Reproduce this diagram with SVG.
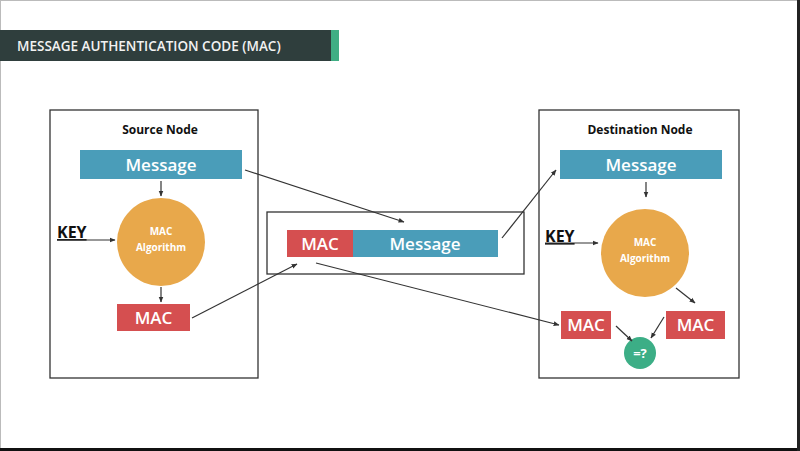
<svg xmlns="http://www.w3.org/2000/svg" width="800" height="451" viewBox="0 0 800 451">
<defs>
<marker id="ah" viewBox="0 0 10 10" refX="9" refY="5" markerWidth="5" markerHeight="5" orient="auto"><path d="M0,1 L10,5 L0,9 z" fill="#333"/></marker>
<style>
.lbl{font-family:"Open Sans","Liberation Sans",sans-serif;fill:#fff;text-anchor:middle}
.big{font-size:17px;font-weight:600}
.small{font-size:10px;font-weight:700}
.hdr{font-family:"Open Sans","Liberation Sans",sans-serif;font-size:12px;font-weight:700;fill:#111;text-anchor:middle}
.key{font-family:"Open Sans","Liberation Sans",sans-serif;font-size:16px;font-weight:700;fill:#111;text-decoration:underline}
.box{fill:#fff;stroke:#333;stroke-width:1.3}
.blue{fill:#4a9db9}
.red{fill:#d54f50}
.orange{fill:#e8a84b}
.green{fill:#3cae86}
.ln{stroke:#333;stroke-width:1.2;fill:none;marker-end:url(#ah)}
</style>
</defs>
<rect x="0" y="0" width="800" height="451" fill="#fff"/>
<rect x="0.5" y="0.5" width="798" height="448" fill="none" stroke="#bbb" stroke-width="1"/>
<line x1="0" y1="449.5" x2="800" y2="449.5" stroke="#111" stroke-width="3"/>
<line x1="798.5" y1="0" x2="798.5" y2="451" stroke="#222" stroke-width="3"/>
<g id="title">
<rect x="0" y="30" width="331" height="31" fill="#2f3e3d"/>
<rect x="331" y="30" width="8" height="31" fill="#3fae84"/>
<text x="17" y="50.5" font-family="Open Sans,Liberation Sans,sans-serif" font-size="13.5" font-weight="600" fill="#f2f2f2">MESSAGE AUTHENTICATION CODE (MAC)</text>
</g>
<g id="source-node">
<rect class="box" x="50" y="110" width="208" height="268"/>
<text class="hdr" x="160" y="134">Source Node</text>
</g>
<g id="src-message"><rect class="blue" x="80" y="150" width="162" height="29"/><text class="lbl big" x="161" y="171">Message</text></g>
<g id="src-mac-algorithm"><circle class="orange" cx="161" cy="242" r="44"/><text class="lbl small" x="161" y="235">MAC</text><text class="lbl small" x="161" y="251">Algorithm</text></g>
<g id="src-key"><text class="key" x="57" y="238">KEY</text></g>
<g id="src-mac"><rect class="red" x="117" y="304" width="73" height="27"/><text class="lbl big" x="153.5" y="324">MAC</text></g>
<g id="transmission">
<rect class="box" x="267" y="212" width="257" height="62"/>
</g>
<g id="tx-mac"><rect class="red" x="287" y="230" width="66" height="27"/><text class="lbl big" x="320" y="250">MAC</text></g>
<g id="tx-message"><rect class="blue" x="353" y="230" width="145" height="27"/><text class="lbl big" x="425" y="250">Message</text></g>
<g id="destination-node">
<rect class="box" x="539" y="110" width="200" height="268"/>
<text class="hdr" x="640" y="134">Destination Node</text>
</g>
<g id="dst-message"><rect class="blue" x="560" y="150" width="162" height="29"/><text class="lbl big" x="641" y="171">Message</text></g>
<g id="dst-mac-algorithm"><circle class="orange" cx="645" cy="253" r="44"/><text class="lbl small" x="645" y="246">MAC</text><text class="lbl small" x="645" y="262">Algorithm</text></g>
<g id="dst-key"><text class="key" x="545" y="242">KEY</text></g>
<g id="dst-mac-received"><rect class="red" x="561" y="311" width="50" height="28"/><text class="lbl big" x="586" y="331">MAC</text></g>
<g id="dst-mac-computed"><rect class="red" x="666" y="311" width="59" height="28"/><text class="lbl big" x="695.5" y="331">MAC</text></g>
<g id="compare"><circle class="green" cx="640" cy="353" r="16"/><text class="lbl" x="640" y="358" font-size="13" font-weight="700">=?</text></g>
<g id="connectors">
<line class="ln" x1="161" y1="181" x2="161" y2="196"/>
<line class="ln" x1="57" y1="240" x2="115" y2="240"/>
<line class="ln" x1="161" y1="287" x2="161" y2="302"/>
<line class="ln" x1="192" y1="318" x2="297" y2="264"/>
<line class="ln" x1="245" y1="170" x2="404" y2="222"/>
<line class="ln" x1="502" y1="238" x2="556" y2="170"/>
<line class="ln" x1="316" y1="263" x2="559" y2="325"/>
<line class="ln" x1="646" y1="182" x2="646" y2="197"/>
<line class="ln" x1="545" y1="243" x2="598" y2="243"/>
<line class="ln" x1="676" y1="288" x2="695" y2="303"/>
<line class="ln" x1="616" y1="326" x2="632" y2="341"/>
<line class="ln" x1="664" y1="317" x2="651" y2="338"/>
</g>
</svg>
